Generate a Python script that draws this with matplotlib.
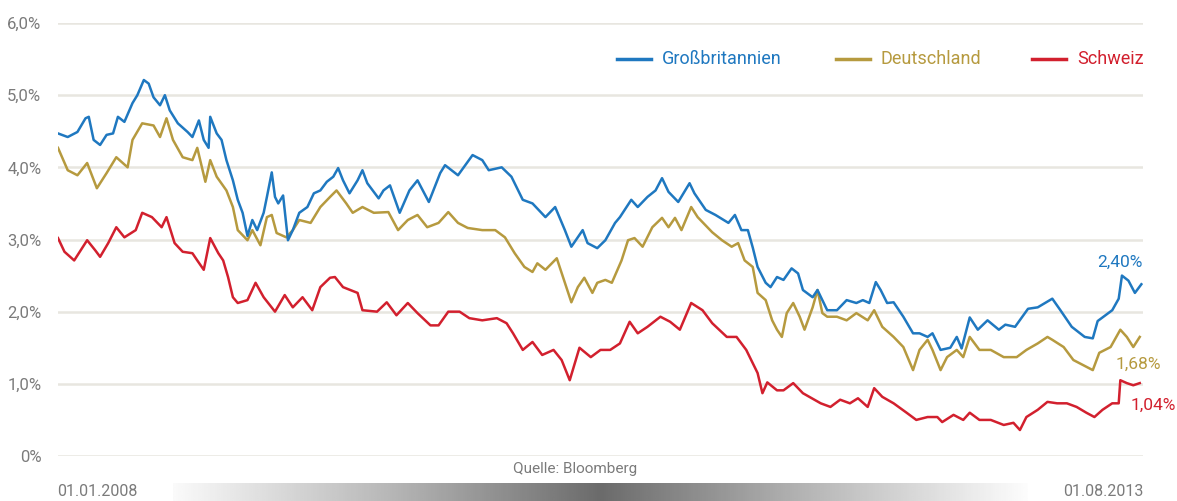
import numpy as np
import matplotlib.pyplot as plt
from matplotlib.lines import Line2D

# Renditen 10-jähriger Staatsanleihen in %, Zeit in Monaten seit 01.01.2008
monate_gb = [0, 0.6, 1.2, 1.7, 1.9, 2.2, 2.6, 3.0, 3.4, 3.7, 4.1, 4.6, 4.9, 5.3, 5.6, 5.9,
             6.3, 6.6, 6.9, 7.4, 8.0, 8.3, 8.7, 9.0, 9.3, 9.4, 9.8, 10.1, 10.4, 10.8, 11.1,
             11.4, 11.7, 12.0, 12.3, 12.7, 12.9, 13.2, 13.4, 13.6, 13.9, 14.2, 14.5, 14.9,
             15.4, 15.8, 16.2, 16.6, 17.0, 17.3, 17.6, 18.0, 18.5, 18.8, 19.1, 19.8, 20.1,
             20.5, 21.1, 21.7, 22.2, 22.9, 23.6, 23.9, 24.7, 25.6, 26.2, 26.6, 27.4, 28.0,
             28.7, 29.3, 30.1, 30.7, 31.3, 31.7, 32.4, 32.7, 33.3, 33.8, 34.4, 34.7, 35.4,
             35.8, 36.4, 36.9, 37.3, 37.7, 38.3, 39.0, 39.3, 40.0, 40.6, 41.4, 41.8, 42.2,
             42.6, 42.9, 43.2, 43.7, 44.0, 44.4, 44.8, 45.3, 45.7, 46.0, 46.6, 46.9, 47.5,
             48.1, 48.7, 49.3, 49.7, 50.1, 50.5, 50.8, 51.2, 51.6, 52.2, 52.8, 53.2, 53.7,
             54.0, 54.5, 55.1, 55.5, 55.8, 56.3, 56.8, 57.4, 58.1, 58.5, 59.1, 59.9, 60.5,
             61.4, 61.9, 62.6, 63.4, 63.9, 64.2, 65.1, 65.5, 65.7, 66.1, 66.5, 66.9]
gb = [4.47, 4.42, 4.49, 4.68, 4.70, 4.38, 4.31, 4.45, 4.47, 4.70, 4.63, 4.89, 5.00, 5.21, 5.16, 4.97,
      4.86, 5.00, 4.79, 4.61, 4.49, 4.42, 4.65, 4.38, 4.27, 4.70, 4.47, 4.38, 4.10, 3.82, 3.55,
      3.37, 3.05, 3.27, 3.13, 3.37, 3.59, 3.93, 3.59, 3.50, 3.61, 2.99, 3.13, 3.37,
      3.45, 3.64, 3.68, 3.80, 3.87, 3.99, 3.82, 3.64, 3.82, 3.96, 3.78, 3.57, 3.68,
      3.75, 3.37, 3.68, 3.82, 3.52, 3.92, 4.03, 3.89, 4.17, 4.10, 3.96, 4.00, 3.87,
      3.55, 3.50, 3.31, 3.45, 3.13, 2.90, 3.13, 2.95, 2.88, 2.99, 3.23, 3.31, 3.55,
      3.45, 3.59, 3.68, 3.85, 3.66, 3.52, 3.78, 3.64, 3.41, 3.34, 3.23, 3.34, 3.13,
      3.13, 2.89, 2.62, 2.40, 2.34, 2.48, 2.44, 2.60, 2.53, 2.30, 2.20, 2.30, 2.02,
      2.02, 2.16, 2.12, 2.16, 2.12, 2.41, 2.30, 2.12, 2.13, 1.93, 1.70, 1.70, 1.65,
      1.70, 1.47, 1.50, 1.65, 1.49, 1.92, 1.75, 1.88, 1.75, 1.82, 1.79, 2.04, 2.06,
      2.18, 2.02, 1.79, 1.65, 1.63, 1.87, 2.02, 2.18, 2.50, 2.43, 2.26, 2.38]

monate_de = [0, 0.6, 1.2, 1.8, 2.4, 3.0, 3.6, 4.3, 4.6, 5.2, 5.9, 6.3, 6.7, 7.1, 7.7, 8.3,
             8.6, 9.1, 9.4, 9.8, 10.4, 10.8, 11.1, 11.7, 12.0, 12.5, 12.9, 13.2, 13.5, 14.1,
             14.5, 14.9, 15.6, 16.2, 16.8, 17.2, 17.8, 18.2, 18.8, 19.5, 20.4, 21.0, 21.6,
             22.2, 22.8, 23.5, 24.1, 24.7, 25.3, 26.2, 27.0, 27.6, 28.2, 28.8, 29.3, 29.6,
             30.1, 30.8, 31.3, 31.7, 32.1, 32.5, 33.0, 33.3, 33.8, 34.2, 34.8, 35.2, 35.6,
             36.1, 36.7, 37.3, 37.7, 38.1, 38.5, 39.1, 39.5, 40.4, 41.0, 41.6, 42.0, 42.4,
             42.9, 43.2, 43.7, 44.1, 44.4, 44.7, 45.0, 45.4, 45.8, 46.1, 46.6, 46.9, 47.2,
             47.5, 48.1, 48.7, 49.3, 50.0, 50.4, 50.9, 51.6, 52.2, 52.8, 53.2, 53.7, 54.0,
             54.5, 54.9, 55.5, 55.9, 56.3, 56.9, 57.6, 58.4, 59.2, 59.8, 60.5, 61.1, 61.4,
             62.1, 62.7, 63.3, 63.9, 64.3, 65.0, 65.6, 66.0, 66.4, 66.8]
de = [4.27, 3.96, 3.89, 4.06, 3.71, 3.92, 4.14, 4.00, 4.38, 4.61, 4.58, 4.42, 4.68, 4.38, 4.14, 4.10,
      4.27, 3.80, 4.10, 3.87, 3.68, 3.45, 3.13, 2.99, 3.13, 2.92, 3.31, 3.34, 3.09, 3.03,
      3.13, 3.27, 3.23, 3.45, 3.59, 3.68, 3.50, 3.37, 3.45, 3.37, 3.38, 3.13, 3.27,
      3.34, 3.17, 3.23, 3.38, 3.23, 3.16, 3.13, 3.13, 3.03, 2.81, 2.62, 2.55, 2.67,
      2.58, 2.74, 2.40, 2.13, 2.34, 2.47, 2.26, 2.40, 2.44, 2.40, 2.71, 2.99, 3.02,
      2.90, 3.17, 3.30, 3.17, 3.30, 3.13, 3.45, 3.31, 3.10, 2.99, 2.90, 2.95, 2.71,
      2.62, 2.26, 2.16, 1.88, 1.75, 1.65, 1.98, 2.12, 1.93, 1.75, 2.06, 2.30, 1.98,
      1.93, 1.93, 1.88, 1.98, 1.88, 2.02, 1.79, 1.65, 1.51, 1.19, 1.47, 1.61, 1.47,
      1.19, 1.37, 1.47, 1.37, 1.65, 1.47, 1.47, 1.37, 1.37, 1.47, 1.56, 1.65, 1.61,
      1.51, 1.33, 1.26, 1.19, 1.43, 1.51, 1.75, 1.65, 1.51, 1.65]

monate_ch = [0, 0.4, 1.0, 1.8, 2.3, 2.6, 3.1, 3.6, 4.1, 4.8, 5.2, 5.8, 6.4, 6.7, 7.2, 7.7,
             8.3, 8.6, 9.0, 9.4, 9.9, 10.2, 10.5, 10.8, 11.1, 11.7, 12.2, 12.7, 13.4, 14.0,
             14.5, 15.1, 15.7, 16.2, 16.8, 17.1, 17.6, 18.5, 18.8, 19.7, 20.3, 20.9, 21.6,
             22.2, 23.0, 23.5, 24.1, 24.8, 25.4, 26.2, 27.1, 27.7, 28.1, 28.7, 29.3, 29.9,
             30.6, 31.1, 31.6, 32.2, 32.9, 33.5, 34.1, 34.7, 35.3, 35.8, 36.4, 37.2, 37.8,
             38.4, 39.1, 39.8, 40.4, 41.3, 41.9, 42.5, 43.2, 43.5, 43.8, 44.4, 44.8, 45.4,
             46.0, 47.1, 47.7, 48.3, 48.9, 49.4, 50.0, 50.4, 50.9, 51.6, 52.4, 53.0, 53.7,
             54.3, 54.6, 55.3, 55.9, 56.3, 56.9, 57.6, 58.4, 59.0, 59.4, 59.8, 60.5, 61.1,
             61.7, 62.3, 62.9, 63.5, 64.0, 64.5, 65.1, 65.5, 65.6, 66.0, 66.4, 66.8]
ch = [3.02, 2.83, 2.71, 2.99, 2.85, 2.76, 2.95, 3.17, 3.03, 3.13, 3.37, 3.31, 3.17, 3.31, 2.95, 2.83,
      2.81, 2.71, 2.58, 3.02, 2.81, 2.71, 2.48, 2.20, 2.12, 2.16, 2.40, 2.20, 2.00, 2.23,
      2.06, 2.20, 2.02, 2.34, 2.47, 2.48, 2.34, 2.26, 2.02, 2.00, 2.13, 1.95, 2.12,
      1.98, 1.81, 1.81, 2.00, 2.00, 1.91, 1.88, 1.91, 1.84, 1.70, 1.47, 1.58, 1.40,
      1.47, 1.33, 1.05, 1.50, 1.37, 1.47, 1.47, 1.56, 1.86, 1.70, 1.79, 1.93, 1.86,
      1.75, 2.12, 2.02, 1.84, 1.65, 1.65, 1.47, 1.15, 0.87, 1.02, 0.91, 0.91, 1.01,
      0.87, 0.73, 0.68, 0.78, 0.73, 0.80, 0.68, 0.94, 0.82, 0.73, 0.60, 0.50, 0.54,
      0.54, 0.47, 0.57, 0.50, 0.60, 0.50, 0.50, 0.43, 0.46, 0.36, 0.54, 0.64, 0.75,
      0.73, 0.73, 0.68, 0.60, 0.54, 0.64, 0.73, 0.73, 1.05, 1.01, 0.98, 1.01]

laender = ['Großbritannien', 'Deutschland', 'Schweiz']
end_labels = ['2,40%', '1,68%', '1,04%']
y_ticks = [0, 1, 2, 3, 4, 5, 6]
y_labels = ['0%', '1,0%', '2,0%', '3,0%', '4,0%', '5,0%', '6,0%']
datum_start = '01.01.2008'
datum_ende = '01.08.2013'

BLAU = '#1f78c0'
GOLD = '#b69a3f'
ROT = '#d2202e'
GRAU = '#7b7b7b'

plt.rcParams['font.family'] = ['Roboto', 'DejaVu Sans']

W, H = 1177, 501
fig = plt.figure(figsize=(W / 100, H / 100), dpi=100)

def fx(px):
    return px / W

def fy(py):
    return 1 - py / H

ax = fig.add_axes([fx(58), fy(456), fx(1143) - fx(58), fy(23) - fy(456)])
ax.set_xlim(0, 67)
ax.set_ylim(0, 6)
for s in ax.spines.values():
    s.set_visible(False)
ax.set_xticks([])
ax.set_yticks(y_ticks)
ax.set_yticklabels(y_labels, color=GRAU, fontsize=12)
ax.tick_params(axis='y', length=0, pad=12)
for t in y_ticks:
    ax.axhline(t, color='#e8e6e0', lw=1.8, zorder=0)

ax.plot(monate_gb, gb, color=BLAU, lw=1.8, zorder=3)
ax.plot(monate_de, de, color=GOLD, lw=1.8, zorder=2)
ax.plot(monate_ch, ch, color=ROT, lw=1.8, zorder=2)

# Endwerte
fig.text(fx(1143), fy(262), end_labels[0], color=BLAU, fontsize=12.5, ha='right', va='center')
fig.text(fx(1161), fy(364), end_labels[1], color=GOLD, fontsize=12.5, ha='right', va='center')
fig.text(fx(1176), fy(405), end_labels[2], color=ROT, fontsize=12.5, ha='right', va='center')

# Legende
for farbe, name, x0 in zip([BLAU, GOLD, ROT], laender, [617, 836, 1032]):
    fig.add_artist(Line2D([fx(x0), fx(x0 + 34)], [fy(59), fy(59)], color=farbe, lw=2.5,
                          transform=fig.transFigure))
    fig.text(fx(x0 + 45), fy(59), name, color=farbe, fontsize=13, ha='left', va='center')

# Quelle und Datum
fig.text(fx(575), fy(469), 'Quelle: Bloomberg', color=GRAU, fontsize=11, ha='center', va='center')
fig.text(fx(57), fy(491), datum_start, color=GRAU, fontsize=11.5, ha='left', va='center')
fig.text(fx(1143), fy(491), datum_ende, color=GRAU, fontsize=11.5, ha='right', va='center')

# Verlaufsbalken unten
gax = fig.add_axes([fx(173), 0, fx(1028) - fx(173), fy(483)])
gax.axis('off')
pos = np.linspace(0, 1, 400)
hell = np.interp(pos, [0, 0.25, 0.5, 0.75, 1], [0.98, 0.72, 0.42, 0.72, 0.99])
gax.imshow(np.tile(hell, (10, 1)), cmap='gray', vmin=0, vmax=1, aspect='auto')

fig.savefig('out.png', dpi=100)
